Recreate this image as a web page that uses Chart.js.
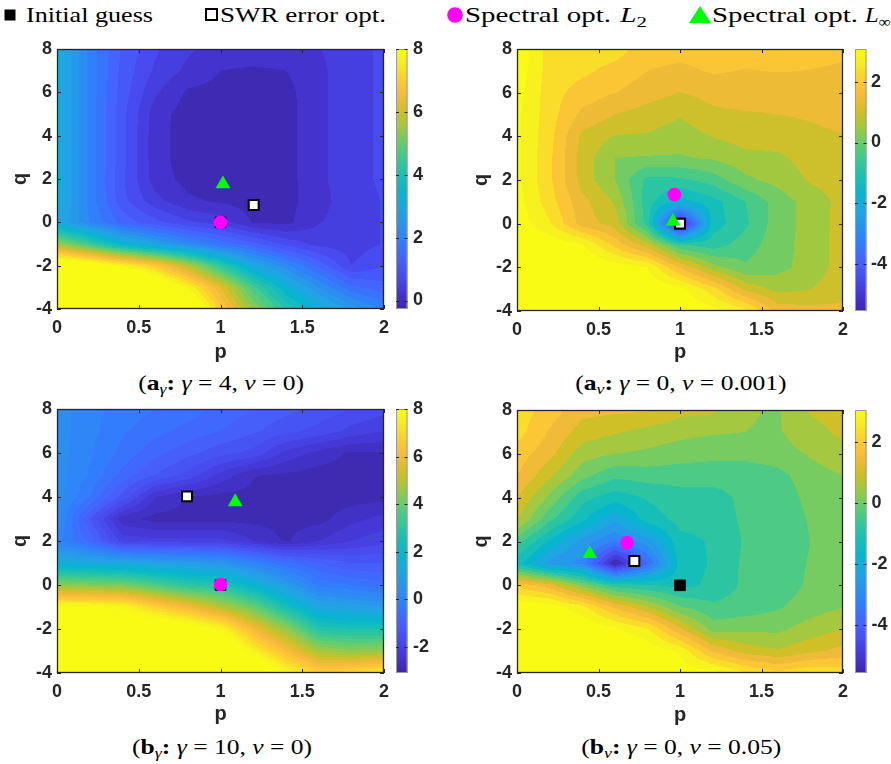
<!DOCTYPE html>
<html><head><meta charset="utf-8">
<script src="https://cdn.jsdelivr.net/npm/chart.js@4.4.1/dist/chart.umd.min.js"></script>
<style>
html,body{margin:0;padding:0;background:#fff;}
body{width:891px;height:764px;overflow:hidden;position:relative;font-family:"Liberation Serif","Times New Roman",serif;color:#000;}
canvas{position:absolute;}
.lt{position:absolute;top:2px;font-size:22px;line-height:26px;white-space:nowrap;transform-origin:0 50%;}
.mk{position:absolute;}
.cap{position:absolute;font-size:21px;line-height:24px;white-space:nowrap;transform-origin:50% 50%;}
.cap sub{font-size:70%;vertical-align:-0.25em;line-height:0;}
.lt sub{font-size:70%;vertical-align:-0.3em;line-height:0;}
</style></head><body>
<canvas id="c1" width="445" height="330" style="left:0px;top:40px"></canvas>
<canvas id="c2" width="431" height="330" style="left:460px;top:40px"></canvas>
<canvas id="c3" width="445" height="335" style="left:0px;top:400px"></canvas>
<canvas id="c4" width="431" height="335" style="left:460px;top:400px"></canvas>

<svg class="mk" style="left:4px;top:9px" width="12" height="12"><rect x="0.5" y="0.5" width="11" height="11" fill="#000"/></svg>
<div class="lt" id="lt1" style="left:26px">Initial guess</div>
<svg class="mk" style="left:205px;top:8px" width="13" height="13"><rect x="1" y="1" width="11" height="11" fill="#fff" stroke="#000" stroke-width="2"/></svg>
<div class="lt" id="lt2" style="left:220px">SWR error opt.</div>
<svg class="mk" style="left:447px;top:7px" width="16" height="16"><circle cx="8" cy="8" r="7.8" fill="#ff00ff"/></svg>
<div class="lt" id="lt3" style="left:465px">Spectral opt.</div>
<div class="lt" id="lt3b" style="left:620px"><i>L</i><sub>2</sub></div>
<svg class="mk" style="left:689px;top:6px" width="22" height="18"><polygon points="11,0 22,17 0,17" fill="#00ff00"/></svg>
<div class="lt" id="lt4" style="left:712px">Spectral opt.</div>
<div class="lt" id="lt4b" style="left:865px"><i>L</i><sub>∞</sub></div>

<div class="cap" id="cap1" style="top:371px">(<b>a</b><sub><i>γ</i></sub><b>:</b> <i>γ</i> = 4, <i>ν</i> = 0)</div>
<div class="cap" id="cap2" style="top:371px">(<b>a</b><sub><i>ν</i></sub><b>:</b> <i>γ</i> = 0, <i>ν</i> = 0.001)</div>
<div class="cap" id="cap3" style="top:735px">(<b>b</b><sub><i>γ</i></sub><b>:</b> <i>γ</i> = 10, <i>ν</i> = 0)</div>
<div class="cap" id="cap4" style="top:735px">(<b>b</b><sub><i>ν</i></sub><b>:</b> <i>γ</i> = 0, <i>ν</i> = 0.05)</div>

<script>
// ---------------- data ----------------
const pGrid = [0, 0.2, 0.4, 0.6, 0.8, 1.0, 1.2, 1.4, 1.6, 1.8, 2.0];
const qGrid = [8, 7, 6, 5, 4, 3, 2, 1, 0, -1, -2, -3, -4];

// rows: q = 8 ... -4 ; columns: p = 0 ... 2
const errAgamma = [
  [3.2, 2.0, 1.15, 0.65, 0.35, 0.2, 0.2, 0.2, 0.28, 0.5, 0.65],
  [3.2, 2.0, 1.1, 0.55, 0.22, 0.0, -0.05, 0.0, 0.22, 0.5, 0.65],
  [3.2, 2.0, 1.05, 0.35, -0.05, -0.1, -0.15, -0.1, 0.22, 0.5, 0.65],
  [3.2, 2.0, 1.0, 0.15, -0.15, -0.15, -0.2, -0.12, 0.22, 0.5, 0.65],
  [3.2, 2.0, 1.0, 0.12, -0.15, -0.2, -0.2, -0.12, 0.22, 0.5, 0.65],
  [3.2, 2.0, 1.0, 0.12, -0.15, -0.2, -0.2, -0.12, 0.22, 0.5, 0.65],
  [3.2, 2.0, 0.95, 0.15, -0.1, -0.15, -0.2, -0.12, 0.22, 0.5, 0.65],
  [3.2, 2.0, 1.0, 0.4, 0.05, -0.05, -0.15, -0.12, 0.2, 0.45, 0.62],
  [3.0, 2.1, 1.4, 1.0, 0.65, 0.45, -0.03, -0.08, 0.28, 0.45, 0.62],
  [5.5, 4.5, 3.4, 2.8, 2.2, 1.7, 1.3, 0.8, 0.5, 0.45, 0.62],
  [9.0, 8.5, 7.8, 7.0, 5.8, 4.3, 3.0, 2.2, 1.4, 0.6, 0.9],
  [11, 10.5, 10, 9.0, 7.8, 6.3, 4.6, 3.3, 2.4, 1.6, 1.3],
  [13, 12.5, 12, 11, 9.0, 7.0, 5.4, 4.2, 3.3, 2.6, 2.0]
];
const errAnu = [
  [3.4, 2.35, 2.35, 2.3, 1.85, 1.8, 1.85, 1.85, 1.85, 1.85, 1.8],
  [3.3, 2.35, 2.2, 1.95, 1.65, 1.55, 1.7, 1.63, 1.67, 1.64, 1.55],
  [3.2, 2.3, 1.9, 1.66, 1.4, 1.19, 1.35, 1.45, 1.4, 1.4, 1.45],
  [3.1, 2.3, 1.55, 1.2, 1.0, 0.8, 1.1, 1.15, 1.2, 1.25, 1.35],
  [3.1, 2.25, 1.1, 0.72, 0.7, 0.5, 0.77, 0.95, 1.0, 1.1, 1.18],
  [3.1, 2.2, 1.0, 0.3, 0.25, 0.25, 0.35, 0.6, 0.65, 0.95, 1.0],
  [3.1, 2.2, 1.0, 0.3, -0.75, -0.7, -0.4, 0.2, 0.45, 0.8, 0.95],
  [3.2, 2.3, 1.35, 0.7, -0.85, -1.7, -1.25, -0.6, 0.05, 0.5, 0.9],
  [3.3, 2.6, 1.45, 1.0, -0.8, -5.5, -1.3, -0.7, 0.1, 0.45, 0.95],
  [3.5, 3.4, 3.1, 2.0, 1.0, -0.5, -0.8, -0.35, 0.1, 0.5, 0.95],
  [3.6, 3.6, 3.5, 3.3, 3.0, 1.6, 0.5, -0.1, 0.15, 0.5, 0.95],
  [3.7, 3.7, 3.6, 3.5, 3.4, 3.2, 2.3, 1.1, 0.6, 0.75, 1.0],
  [3.8, 3.8, 3.7, 3.6, 3.5, 3.4, 3.2, 2.7, 1.5, 1.35, 1.35]
];
const errBgamma = [
  [0.35, 0.0, -0.2, -0.4, -0.55, -0.8, -1.0, -1.2, -1.4, -1.6, -1.8],
  [0.35, 0.0, -0.35, -0.6, -0.8, -1.0, -1.25, -1.5, -1.7, -2.0, -2.2],
  [0.35, -0.05, -0.5, -0.9, -1.2, -1.5, -1.7, -2.3, -2.6, -2.85, -2.82],
  [0.35, -0.15, -0.8, -1.3, -1.7, -2.3, -2.78, -2.85, -2.95, -2.95, -2.9],
  [0.35, -0.4, -1.4, -2.5, -2.82, -2.9, -2.9, -2.95, -2.95, -2.95, -2.9],
  [0.35, -1.3, -2.7, -2.9, -2.9, -2.9, -2.9, -2.9, -2.9, -2.6, -2.4],
  [0.0, -0.8, -2.0, -2.1, -2.1, -2.1, -2.5, -2.85, -2.5, -2.2, -2.0],
  [1.5, 1.3, 1.2, 1.0, 0.8, 0.6, 0.0, -0.6, -1.0, -1.3, -1.3],
  [4.5, 4.3, 4.2, 3.6, 3.0, 2.8, 1.8, 0.8, -0.2, -0.4, -0.6],
  [8.0, 8.0, 7.8, 6.8, 6.0, 5.0, 4.0, 2.5, 1.2, 1.0, 0.8],
  [9.5, 9.5, 9.5, 9.0, 8.6, 7.8, 6.0, 4.6, 2.8, 2.6, 2.6],
  [11, 11, 11, 11, 10.5, 9.5, 7.6, 6.2, 4.8, 4.5, 4.6],
  [12, 12, 12, 12, 12, 11, 9.5, 7.8, 6.8, 7.0, 7.5]
];
const errBnu = [
  [2.35, 1.9, 1.35, 1.3, 1.25, 0.9, 0.85, 0.35, 0.25, 0.8, 0.95],
  [2.3, 1.6, 1.0, 0.8, 0.6, 0.45, 0.35, 0.3, 0.25, 0.6, 0.85],
  [1.9, 1.35, 0.5, 0.3, 0.2, 0.05, 0.0, 0.0, 0.1, 0.35, 0.6],
  [1.65, 0.85, 0.0, -0.5, -0.4, -0.4, -0.45, -0.45, -0.3, 0.1, 0.3],
  [1.2, 0.2, -0.9, -1.3, -1.0, -0.8, -0.75, -0.5, -0.45, 0.0, 0.15],
  [0.8, -0.5, -1.4, -2.3, -1.3, -0.9, -0.9, -0.5, -0.5, -0.1, 0.1],
  [-0.4, -1.6, -2.6, -3.3, -2.6, -1.2, -1.0, -0.55, -0.5, -0.15, 0.1],
  [-1.3, -2.6, -3.0, -5.6, -3.8, -1.3, -1.0, -0.5, -0.5, -0.1, 0.1],
  [2.0, 1.4, 0.2, -0.8, -1.0, -1.2, -0.95, -0.5, -0.45, -0.05, 0.15],
  [3.4, 3.3, 2.7, 1.6, 0.8, -0.1, -0.5, -0.4, -0.2, 0.1, 0.3],
  [3.6, 3.6, 3.5, 3.1, 2.6, 1.3, 0.1, 0.2, 0.2, 0.5, 0.75],
  [3.7, 3.7, 3.6, 3.5, 3.4, 2.9, 1.6, 1.0, 0.8, 1.1, 1.35],
  [3.7, 3.7, 3.7, 3.6, 3.5, 3.3, 3.2, 2.6, 2.2, 2.5, 2.4]
];

const xTicks = [0, 0.5, 1, 1.5, 2];
const yTicks = [-4, -2, 0, 2, 4, 6, 8];
const cbTicksAgamma = [0, 2, 4, 6, 8];
const cbTicksAnu = [-4, -2, 0, 2];
const cbTicksBgamma = [-2, 0, 2, 4, 6, 8];
const cbTicksBnu = [-4, -2, 0, 2];
const cbRangeAgamma = [-0.27, 8];
const cbRangeAnu = [-5.53, 3.07];
const cbRangeBgamma = [-3.1, 8];
const cbRangeBnu = [-5.57, 3.05];

// optimisation points (p, q)
const initAgamma = [{x: 1, y: 0}], swrAgamma = [{x: 1.203, y: 0.8}], l2Agamma = [{x: 1, y: 0}], linfAgamma = [{x: 1.015, y: 1.77}];
const initAnu = [{x: 1, y: 0}], swrAnu = [{x: 1.0, y: 0.0}], l2Anu = [{x: 0.965, y: 1.33}], linfAnu = [{x: 0.957, y: 0.1}];
const initBgamma = [{x: 1, y: 0}], swrBgamma = [{x: 0.795, y: 4.03}], l2Bgamma = [{x: 1, y: 0.02}], linfBgamma = [{x: 1.09, y: 3.78}];
const initBnu = [{x: 1, y: 0}], swrBnu = [{x: 0.72, y: 1.11}], l2Bnu = [{x: 0.675, y: 1.95}], linfBnu = [{x: 0.446, y: 1.44}];

// ---------------- colormap (parula anchors: index of 64, r, g, b) ----------------
const PARULA = [
  [0, 0.2422, 0.1504, 0.6603], [4, 0.2706, 0.2147, 0.8364], [8, 0.2813, 0.3006, 0.9414],
  [12, 0.2699, 0.3892, 0.9906], [16, 0.1963, 0.4847, 0.9892], [20, 0.1687, 0.5703, 0.9359],
  [24, 0.1248, 0.6459, 0.8883], [28, 0.0297, 0.7082, 0.8163], [32, 0.0964, 0.7500, 0.7120],
  [36, 0.2161, 0.7843, 0.5923], [40, 0.3909, 0.8029, 0.4354], [44, 0.6174, 0.7876, 0.2612],
  [48, 0.8203, 0.7498, 0.1535], [52, 0.9728, 0.7298, 0.2394], [56, 0.9892, 0.8136, 0.1885],
  [60, 0.9628, 0.9373, 0.1265], [63, 0.9769, 0.9839, 0.0805]
];
function parula(t) {
  t = Math.min(1, Math.max(0, t));
  const x = t * 63;
  for (let k = 0; k < PARULA.length - 1; k++) {
    const a = PARULA[k], b = PARULA[k + 1];
    if (x <= b[0]) {
      const f = (x - a[0]) / (b[0] - a[0]);
      return [(a[1] + (b[1] - a[1]) * f) * 255, (a[2] + (b[2] - a[2]) * f) * 255, (a[3] + (b[3] - a[3]) * f) * 255];
    }
  }
  const l = PARULA[PARULA.length - 1];
  return [l[1] * 255, l[2] * 255, l[3] * 255];
}
function interp(z, p, q) {
  let i = 0; while (i < pGrid.length - 2 && p > pGrid[i + 1]) i++;
  let j = 0; while (j < qGrid.length - 2 && q < qGrid[j + 1]) j++;
  let fx = (p - pGrid[i]) / (pGrid[i + 1] - pGrid[i]);
  let fy = (q - qGrid[j]) / (qGrid[j + 1] - qGrid[j]);
  fx = Math.min(1, Math.max(0, fx)); fy = Math.min(1, Math.max(0, fy));
  return z[j][i] * (1 - fx) * (1 - fy) + z[j][i + 1] * fx * (1 - fy) + z[j + 1][i] * (1 - fx) * fy + z[j + 1][i + 1] * fx * fy;
}

const AXC = '#262626';
const contourPlugin = {
  id: 'contour',
  beforeDatasetsDraw(chart, args, o) {
    const ctx = chart.ctx, a = chart.chartArea, xs = chart.scales.x, ys = chart.scales.y;
    const w = Math.round(a.right - a.left), h = Math.round(a.bottom - a.top);
    const off = document.createElement('canvas'); off.width = w; off.height = h;
    const octx = off.getContext('2d'); const img = octx.createImageData(w, h); const d = img.data;
    for (let py = 0; py < h; py++) {
      const q = ys.getValueForPixel(a.top + py + 0.5);
      for (let px = 0; px < w; px++) {
        const p = xs.getValueForPixel(a.left + px + 0.5);
        const v = interp(o.z, p, q);
        const lv = o.base + Math.floor((v - o.base) / o.step) * o.step + o.step / 2;
        const c = parula((lv - o.cmin) / (o.cmax - o.cmin));
        const k = (py * w + px) * 4;
        d[k] = c[0]; d[k + 1] = c[1]; d[k + 2] = c[2]; d[k + 3] = 255;
      }
    }
    octx.putImageData(img, 0, 0);
    ctx.drawImage(off, a.left, a.top);
    // inward ticks + box
    ctx.save();
    ctx.strokeStyle = AXC; ctx.lineWidth = 1;
    ctx.beginPath();
    xTicks.forEach(v => {
      const x = Math.round(xs.getPixelForValue(v)) + 0.5;
      ctx.moveTo(x, a.bottom); ctx.lineTo(x, a.bottom - 4);
      ctx.moveTo(x, a.top); ctx.lineTo(x, a.top + 4);
    });
    yTicks.forEach(v => {
      const y = Math.round(ys.getPixelForValue(v)) + 0.5;
      ctx.moveTo(a.left, y); ctx.lineTo(a.left + 4, y);
      ctx.moveTo(a.right, y); ctx.lineTo(a.right - 4, y);
    });
    ctx.stroke();
    ctx.lineWidth = 1.3;
    ctx.strokeRect(a.left + 0.5, a.top + 0.5, a.right - a.left - 1, a.bottom - a.top - 1);
    ctx.restore();
  },
  afterDraw(chart, args, o) {
    const ctx = chart.ctx, a = chart.chartArea, cb = chart.scales.cb;
    const x0 = a.right + 12, wcb = 11.5;
    const yTop = cb.getPixelForValue(o.cmax), yBot = cb.getPixelForValue(o.cmin);
    for (let y = Math.floor(yTop); y < Math.ceil(yBot); y++) {
      const v = cb.getValueForPixel(y + 0.5);
      const c = parula((v - o.cmin) / (o.cmax - o.cmin));
      ctx.fillStyle = `rgb(${c[0] | 0},${c[1] | 0},${c[2] | 0})`;
      ctx.fillRect(x0, y, wcb, 1);
    }
    ctx.save();
    ctx.strokeStyle = '#9a9a9a'; ctx.lineWidth = 1;
    ctx.strokeRect(x0 + 0.5, Math.round(yTop) + 0.5, wcb - 1, Math.round(yBot - yTop) - 1);
    ctx.strokeStyle = AXC;
    ctx.beginPath();
    o.ticks.forEach(v => {
      const y = Math.round(cb.getPixelForValue(v)) + 0.5;
      ctx.moveTo(x0, y); ctx.lineTo(x0 + 3, y);
      ctx.moveTo(x0 + wcb, y); ctx.lineTo(x0 + wcb - 3, y);
    });
    ctx.stroke();
    ctx.restore();
  }
};

const tickFont = {family: "'Liberation Sans', Arial, Helvetica, sans-serif", size: 18, weight: 'bold'};
const titleFont = {family: "'Liberation Sans', Arial, Helvetica, sans-serif", size: 20, weight: 'bold'};

function makeChart(id, z, ticksCb, range, step, base, pts, geo) {
  const [cmin, cmax] = range;
  const fix = (arr) => (s) => { s.ticks = arr.map(v => ({value: v})); };
  return new Chart(document.getElementById(id), {
    type: 'scatter',
    data: {
      datasets: [
        {label: 'Spectral opt. L∞', data: pts.linf, pointStyle: 'triangle', pointRadius: 8.6, backgroundColor: '#00ff00', borderWidth: 0},
        {label: 'Spectral opt. L2', data: pts.l2, pointStyle: 'circle', pointRadius: 6.8, backgroundColor: '#ff00ff', borderWidth: 0},
        {label: 'SWR error opt.', data: pts.swr, pointStyle: 'rect', pointRadius: 7.0, backgroundColor: '#ffffff', borderColor: '#000000', borderWidth: 2},
        {label: 'Initial guess', data: pts.init, pointStyle: 'rect', pointRadius: 7.5, backgroundColor: '#000000', borderColor: '#000000', borderWidth: 1}
      ]
    },
    options: {
      responsive: false, animation: false, events: [],
      layout: {padding: {left: geo.padL, top: geo.padT, right: 0, bottom: geo.padB}},
      plugins: {legend: {display: false}, tooltip: {enabled: false},
        contour: {z, step, base, cmin, cmax, ticks: ticksCb}},
      scales: {
        x: {type: 'linear', position: 'bottom', min: 0, max: 2,
          afterBuildTicks: fix(xTicks),
          ticks: {font: tickFont, color: AXC, padding: 8, maxRotation: 0, autoSkip: false, callback: v => String(v)},
          grid: {display: false, drawTicks: false}, border: {display: false},
          title: {display: true, text: 'p', font: titleFont, color: AXC, padding: 0},
          afterFit: s => { s.height = geo.xH; s.paddingLeft = 0; s.paddingRight = 0; }
        },
        y: {type: 'linear', position: 'left', min: -4, max: 8,
          afterBuildTicks: fix(yTicks),
          ticks: {font: tickFont, color: AXC, padding: 5, autoSkip: false, callback: v => String(v)},
          grid: {display: false, drawTicks: false}, border: {display: false},
          title: {display: true, text: 'q', font: titleFont, color: AXC, padding: 0},
          afterFit: s => { s.width = geo.yW; s.paddingTop = 0; s.paddingBottom = 0; }
        },
        cb: {type: 'linear', position: 'right', min: cmin, max: cmax,
          afterBuildTicks: fix(ticksCb),
          ticks: {font: tickFont, color: AXC, padding: geo.cbPad, autoSkip: false, callback: v => String(v)},
          grid: {display: false, drawTicks: false, drawOnChartArea: false}, border: {display: false},
          afterFit: s => { s.width = geo.cbW; s.paddingTop = 0; s.paddingBottom = 0; }
        }
      }
    },
    plugins: [contourPlugin]
  });
}

makeChart('c1', errAgamma, cbTicksAgamma, cbRangeAgamma, 0.3, -0.3,
  {init: initAgamma, swr: swrAgamma, l2: l2Agamma, linf: linfAgamma},
  {padL: 8.5, padT: 5, padB: 6.0, yW: 48.5, xH: 55.0, cbW: 61, cbPad: 29});
makeChart('c2', errAnu, cbTicksAnu, cbRangeAnu, 0.45, 3.0,
  {init: initAnu, swr: swrAnu, l2: l2Anu, linf: linfAnu},
  {padL: 9, padT: 6, padB: 5.3, yW: 48, xH: 53.7, cbW: 48, cbPad: 28});
makeChart('c3', errBgamma, cbTicksBgamma, cbRangeBgamma, 0.3, -2.8,
  {init: initBgamma, swr: swrBgamma, l2: l2Bgamma, linf: linfBgamma},
  {padL: 8.5, padT: 9, padB: 8.3, yW: 48.5, xH: 53.7, cbW: 61, cbPad: 29});
makeChart('c4', errBnu, cbTicksBnu, cbRangeBnu, 0.45, 3.0,
  {init: initBnu, swr: swrBnu, l2: l2Bnu, linf: linfBnu},
  {padL: 9, padT: 10, padB: 7.6, yW: 48, xH: 54.4, cbW: 48, cbPad: 28.5});

// ---------------- text fitting (legend + captions) ----------------
function fitW(id, target) {
  const el = document.getElementById(id);
  const w = el.getBoundingClientRect().width;
  el.style.transform = `scaleX(${target / w})`;
}
fitW('lt1', 127); fitW('lt2', 166); fitW('lt3', 146); fitW('lt4', 146);
fitW('lt3b', 27); fitW('lt4b', 26);

const capRef = document.getElementById('cap3').getBoundingClientRect().width;
const kCap = 180 / capRef;
[['cap1', 221], ['cap2', 681], ['cap3', 221.7], ['cap4', 681.3]].forEach(([id, cx]) => {
  const el = document.getElementById(id);
  const w = el.getBoundingClientRect().width;
  el.style.left = (cx - w / 2) + 'px';
  el.style.transform = `scaleX(${kCap})`;
});
</script>
</body></html>
